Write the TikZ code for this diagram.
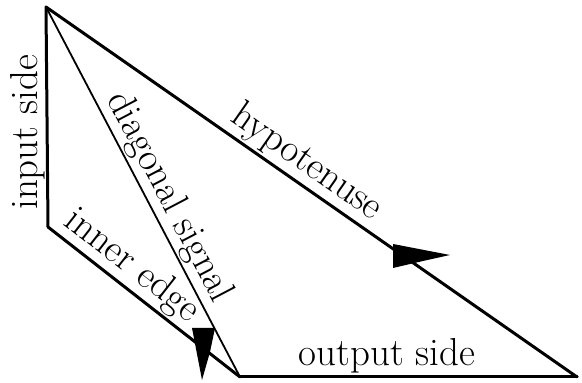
\documentclass[tikz,border=0pt]{standalone}
\begin{document}
\begin{tikzpicture}[x=0.5pt,y=-0.5pt,
  edge/.style={line width=1.5pt,line join=round,line cap=round},
  thinedge/.style={line width=0.9pt},
  lbl/.style={font=\fontsize{19.5}{23}\selectfont,inner sep=1pt,sloped,above},
  tip/.style={fill=black,draw=none}]
\useasboundingbox (0,0) rectangle (582,383);
\coordinate (A) at (46,7);
\coordinate (B) at (48,227);
\coordinate (C) at (240,377);
\coordinate (D) at (577,377);
\draw[edge] (B) -- coordinate[pos=0.43] (inpos) (A);
\node[font=\fontsize{19.5}{23}\selectfont,inner sep=1pt,rotate=90,anchor=south] (in) at (inpos) {input side};
\draw[edge] (A) -- node[lbl,pos=0.468] (hy) {hypotenuse} (D);
\draw[edge] (B) -- node[lbl,pos=0.37] (ie) {inner edge} (C);
\draw[edge] (C) -- node[lbl,pos=0.436] (os) {output side} (D);
\draw[thinedge] (A) -- node[lbl,pos=0.54] (dg) {diagonal signal} (C);
\fill[tip] (393,244) -- (450,255) -- (423,261) -- (393,268) -- cycle;
\fill[tip] (192,328) -- (215,328) -- (210,352) -- (202,380) -- cycle;
\end{tikzpicture}
\end{document}
